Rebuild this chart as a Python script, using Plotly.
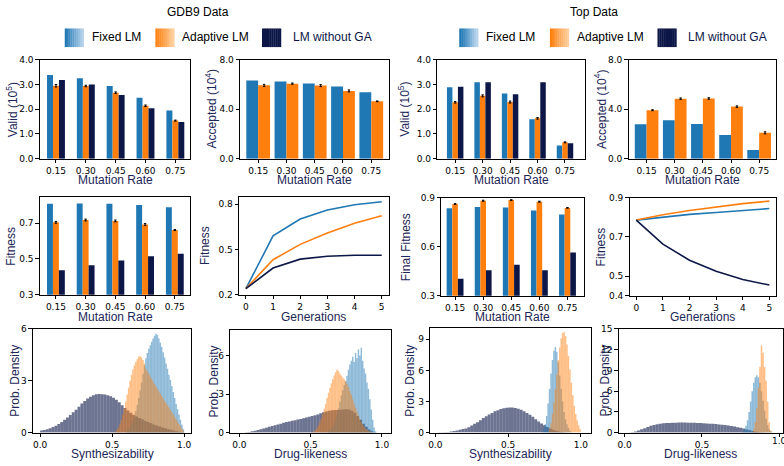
import plotly.graph_objects as go

W, H = 784, 466
BLUE = '#1f77b4'
ORANGE = '#ff7f0e'
NAVY = '#0c1747'
LABEL = '#1c2657'
FONT = 'Liberation Sans, Arial, sans-serif'
TICKFONT = 'DejaVu Sans, sans-serif'

# ---------------- data ----------------
series_names = ['Fixed LM', 'Adaptive LM', 'LM without GA']
mutation_labels = ['0.15', '0.30', '0.45', '0.60', '0.75']
generations = [0, 1, 2, 3, 4, 5]

gdb9_valid_fixed = [3.38, 3.25, 2.94, 2.46, 1.95]
gdb9_valid_adapt = [2.95, 2.94, 2.67, 2.14, 1.54]
gdb9_valid_adapt_err = [0.05, 0.03, 0.03, 0.03, 0.02]
gdb9_valid_nog = [3.18, 3.00, 2.58, 2.04, 1.48]

gdb9_acc_fixed = [6.33, 6.25, 6.09, 5.83, 5.38]
gdb9_acc_adapt = [5.93, 6.07, 5.91, 5.48, 4.64]
gdb9_acc_adapt_err = [0.08, 0.05, 0.08, 0.08, 0.03]

top_valid_fixed = [2.89, 3.09, 2.64, 1.59, 0.53]
top_valid_adapt = [2.28, 2.54, 2.29, 1.63, 0.66]
top_valid_adapt_err = [0.03, 0.04, 0.04, 0.03, 0.02]
top_valid_nog = [2.91, 3.09, 2.61, 3.09, 0.62]

top_acc_fixed = [2.78, 3.10, 2.81, 1.91, 0.69]
top_acc_adapt = [3.92, 4.85, 4.87, 4.21, 2.09]
top_acc_adapt_err = [0.04, 0.06, 0.06, 0.06, 0.08]

gdb9_fit_fixed = [0.809, 0.811, 0.809, 0.802, 0.789]
gdb9_fit_adapt = [0.705, 0.718, 0.713, 0.693, 0.662]
gdb9_fit_adapt_err = [0.005, 0.005, 0.005, 0.005, 0.003]
gdb9_fit_nog = [0.436, 0.464, 0.491, 0.515, 0.529]

gdb9_gen_fixed = [0.240, 0.590, 0.702, 0.762, 0.797, 0.817]
gdb9_gen_adapt = [0.240, 0.432, 0.534, 0.609, 0.674, 0.724]
gdb9_gen_nog = [0.240, 0.377, 0.436, 0.455, 0.462, 0.462]

top_fit_fixed = [0.836, 0.844, 0.840, 0.822, 0.798]
top_fit_adapt = [0.862, 0.882, 0.886, 0.876, 0.838]
top_fit_adapt_err = [0.002, 0.003, 0.002, 0.003, 0.002]
top_fit_nog = [0.404, 0.455, 0.489, 0.455, 0.565]

top_gen_fixed = [0.786, 0.801, 0.815, 0.825, 0.835, 0.845]
top_gen_adapt = [0.786, 0.813, 0.835, 0.853, 0.870, 0.883]
top_gen_nog = [0.786, 0.663, 0.581, 0.524, 0.482, 0.454]

# histograms: bin start, bin width, densities
gdb9_syn_nog_start, gdb9_syn_nog_w = 0.0, 0.02
gdb9_syn_nog = [0.12, 0.15, 0.2, 0.25, 0.32, 0.4, 0.5, 0.62, 0.75, 0.88,
                1.02, 1.18, 1.33, 1.5, 1.68, 1.83, 1.97, 2.08, 2.16, 2.22,
                2.24, 2.22, 2.2, 2.16, 2.1, 2.02, 1.9, 1.75, 1.58, 1.42,
                1.28, 1.15, 1.04, 0.94, 0.85, 0.77, 0.69, 0.61, 0.54, 0.47,
                0.41, 0.35, 0.3, 0.25, 0.2, 0.16, 0.12, 0.08, 0.05, 0.02]
gdb9_syn_fixed_start, gdb9_syn_fixed_w = 0.60, 0.01
gdb9_syn_fixed = [0.1, 0.2, 0.35, 0.5, 0.7, 0.95, 1.25, 1.6, 2.0, 2.45,
                  2.9, 3.4, 3.9, 4.3, 4.6, 4.85, 5.05, 5.25, 5.45, 5.6,
                  5.72, 5.65, 5.45, 5.2, 4.95, 4.65, 4.35, 4.0, 3.7, 3.35,
                  3.05, 2.7, 2.35, 2.0, 1.65, 1.35, 1.05, 0.75, 0.45, 0.2]
gdb9_syn_adapt_start, gdb9_syn_adapt_w = 0.52, 0.01
gdb9_syn_adapt = [0.05, 0.15, 0.3, 0.5, 0.75, 1.05, 1.4, 1.8, 2.2, 2.6,
                  3.0, 3.35, 3.65, 3.9, 4.1, 4.25, 4.4, 4.42, 4.35, 4.2,
                  4.0, 3.7, 3.55, 3.4, 3.25, 3.1, 2.95, 2.8, 2.67, 2.53,
                  2.4, 2.26, 2.12, 1.98, 1.85, 1.72, 1.58, 1.45, 1.32, 1.18,
                  1.05, 0.92, 0.78, 0.65, 0.5, 0.37, 0.23, 0.1]

gdb9_dl_nog_start, gdb9_dl_nog_w = 0.04, 0.02
gdb9_dl_nog = [0.02, 0.05, 0.1, 0.15, 0.2, 0.26, 0.32, 0.38, 0.45, 0.52,
               0.58, 0.64, 0.7, 0.76, 0.82, 0.87, 0.92, 0.97, 1.02, 1.07,
               1.12, 1.18, 1.24, 1.3, 1.36, 1.42, 1.5, 1.58, 1.65, 1.7,
               1.74, 1.76, 1.76, 1.78, 1.8, 1.82, 1.8, 1.7, 1.55, 1.3,
               1.0, 0.7, 0.45, 0.25, 0.1, 0.03]
gdb9_dl_fixed_start, gdb9_dl_fixed_w = 0.62, 0.01
gdb9_dl_fixed = [0.1, 0.2, 0.35, 0.5, 0.7, 1.0, 1.4, 1.9, 2.4, 2.9,
                 3.3, 3.7, 4.0, 4.4, 4.9, 5.3, 5.6, 5.9, 5.5, 6.2,
                 5.8, 6.5, 6.0, 6.6, 5.6, 5.0, 4.6, 3.9, 3.4, 2.6,
                 1.8, 1.0, 0.4, 0.1]
gdb9_dl_adapt_start, gdb9_dl_adapt_w = 0.50, 0.01
gdb9_dl_adapt = [0.02, 0.05, 0.1, 0.2, 0.35, 0.55, 0.8, 1.1, 1.45, 1.85,
                 2.25, 2.7, 3.1, 3.5, 3.85, 4.15, 4.45, 4.7, 4.92, 4.8,
                 4.6, 4.45, 4.3, 4.15, 4.0, 3.8, 3.55, 3.25, 2.95, 2.6,
                 2.25, 1.95, 1.65, 1.35, 1.1, 0.85, 0.65, 0.48, 0.35, 0.24,
                 0.15, 0.08, 0.03]

top_syn_nog_start, top_syn_nog_w = 0.0, 0.02
top_syn_nog = [0.02, 0.03, 0.04, 0.05, 0.07, 0.1, 0.15, 0.2, 0.28, 0.34,
               0.4, 0.52, 0.68, 0.85, 1.0, 1.2, 1.4, 1.58, 1.75, 1.9,
               2.05, 2.17, 2.27, 2.35, 2.4, 2.43, 2.42, 2.38, 2.3, 2.2,
               2.06, 1.9, 1.72, 1.52, 1.3, 1.08, 0.88, 0.7, 0.54, 0.4,
               0.28, 0.19, 0.12, 0.07, 0.04, 0.02]
top_syn_fixed_start, top_syn_fixed_w = 0.74, 0.01
top_syn_fixed = [0.3, 0.8, 1.6, 2.8, 4.2, 5.7, 7.0, 7.9, 8.25, 7.8,
                 6.8, 5.5, 4.2, 3.0, 2.0, 1.3, 0.8, 0.45, 0.2, 0.08]
top_syn_adapt_start, top_syn_adapt_w = 0.78, 0.01
top_syn_adapt = [0.4, 0.9, 1.8, 2.9, 4.2, 5.6, 7.0, 8.2, 9.1, 9.6,
                 9.7, 9.3, 8.5, 7.4, 6.1, 4.8, 3.6, 2.6, 1.8, 1.2,
                 0.7, 0.35]

top_dl_nog_start, top_dl_nog_w = 0.04, 0.02
top_dl_nog = [0.05, 0.15, 0.3, 0.48, 0.65, 0.82, 0.98, 1.1, 1.2, 1.28,
              1.34, 1.38, 1.41, 1.43, 1.44, 1.45, 1.45, 1.45, 1.44, 1.43,
              1.42, 1.4, 1.38, 1.36, 1.33, 1.3, 1.27, 1.23, 1.19, 1.14,
              1.09, 1.03, 0.96, 0.88, 0.79, 0.69, 0.58, 0.46, 0.34, 0.23,
              0.14, 0.07, 0.03]
top_dl_fixed_start, top_dl_fixed_w = 0.76, 0.01
top_dl_fixed = [0.2, 0.5, 1.0, 1.8, 3.0, 4.5, 6.0, 7.2, 8.0, 8.3,
                8.0, 7.2, 6.0, 4.6, 3.2, 2.0, 1.1, 0.5, 0.2]
top_dl_adapt_start, top_dl_adapt_w = 0.83, 0.01
top_dl_adapt = [0.5, 1.5, 3.5, 6.5, 9.5, 12.6, 11.5, 9.5, 7.5, 4.5,
                1.5, 0.3]

# ---------------- layout helpers ----------------
panels = [
    (38, 189, 56, 157), (239, 388, 56, 157), (437, 585, 56, 157), (629, 777, 56, 157),
    (38, 189, 196, 296), (238, 388, 196, 296), (441, 584, 197, 297), (630, 777, 197, 297),
    (31, 190, 331, 437), (229, 390, 332, 437), (430, 591, 330, 437), (619, 784, 331, 437),
]

fig = go.Figure()
pos = list(range(len(mutation_labels)))


def ax(i):
    return ('x' if i == 0 else f'x{i+1}'), ('y' if i == 0 else f'y{i+1}')


def bar(i, vals, color, width, offset, err=None):
    xa, ya = ax(i)
    kw = {}
    if err is not None:
        kw['error_y'] = dict(type='data', array=err, color='black', thickness=1, width=1.2)
    fig.add_trace(go.Bar(x=pos, y=vals, width=width, offset=offset, marker_color=color,
                         marker_line_width=0, xaxis=xa, yaxis=ya, showlegend=False, **kw))


def hist(i, start, w, vals, color):
    xa, ya = ax(i)
    xs = [start + w * k for k in range(len(vals))]
    fig.add_trace(go.Bar(x=xs, y=vals, width=w, offset=0, marker_color=color,
                         marker_line_width=0, xaxis=xa, yaxis=ya, showlegend=False))


def line(i, vals, color):
    xa, ya = ax(i)
    fig.add_trace(go.Scatter(x=generations, y=vals, mode='lines', line=dict(color=color, width=1.6),
                             xaxis=xa, yaxis=ya, showlegend=False))


w3, w2 = 0.2, 0.42
# row 1
bar(0, gdb9_valid_fixed, BLUE, w3, -0.3)
bar(0, gdb9_valid_adapt, ORANGE, w3, -0.1, gdb9_valid_adapt_err)
bar(0, gdb9_valid_nog, NAVY, w3, 0.1)
bar(1, gdb9_acc_fixed, BLUE, w2, -w2)
bar(1, gdb9_acc_adapt, ORANGE, w2, 0, gdb9_acc_adapt_err)
bar(2, top_valid_fixed, BLUE, w3, -0.3)
bar(2, top_valid_adapt, ORANGE, w3, -0.1, top_valid_adapt_err)
bar(2, top_valid_nog, NAVY, w3, 0.1)
bar(3, top_acc_fixed, BLUE, w2, -w2)
bar(3, top_acc_adapt, ORANGE, w2, 0, top_acc_adapt_err)
# row 2
bar(4, gdb9_fit_fixed, BLUE, w3, -0.3)
bar(4, gdb9_fit_adapt, ORANGE, w3, -0.1, gdb9_fit_adapt_err)
bar(4, gdb9_fit_nog, NAVY, w3, 0.1)
line(5, gdb9_gen_fixed, BLUE)
line(5, gdb9_gen_adapt, ORANGE)
line(5, gdb9_gen_nog, NAVY)
bar(6, top_fit_fixed, BLUE, w3, -0.3)
bar(6, top_fit_adapt, ORANGE, w3, -0.1, top_fit_adapt_err)
bar(6, top_fit_nog, NAVY, w3, 0.1)
line(7, top_gen_fixed, BLUE)
line(7, top_gen_adapt, ORANGE)
line(7, top_gen_nog, NAVY)
# row 3
HN = 'rgba(12,23,71,0.6)'
HB = 'rgba(31,119,180,0.5)'
HO = 'rgba(255,127,14,0.5)'
hist(8, gdb9_syn_nog_start, gdb9_syn_nog_w, gdb9_syn_nog, HN)
hist(8, gdb9_syn_fixed_start, gdb9_syn_fixed_w, gdb9_syn_fixed, HB)
hist(8, gdb9_syn_adapt_start, gdb9_syn_adapt_w, gdb9_syn_adapt, HO)
hist(9, gdb9_dl_nog_start, gdb9_dl_nog_w, gdb9_dl_nog, HN)
hist(9, gdb9_dl_fixed_start, gdb9_dl_fixed_w, gdb9_dl_fixed, HB)
hist(9, gdb9_dl_adapt_start, gdb9_dl_adapt_w, gdb9_dl_adapt, HO)
hist(10, top_syn_nog_start, top_syn_nog_w, top_syn_nog, HN)
hist(10, top_syn_fixed_start, top_syn_fixed_w, top_syn_fixed, HB)
hist(10, top_syn_adapt_start, top_syn_adapt_w, top_syn_adapt, HO)
hist(11, top_dl_nog_start, top_dl_nog_w, top_dl_nog, HN)
hist(11, top_dl_fixed_start, top_dl_fixed_w, top_dl_fixed, HB)
hist(11, top_dl_adapt_start, top_dl_adapt_w, top_dl_adapt, HO)

# axis specs: xrange, yrange, xticks(vals, text), yticks(vals, text)
cat_ticks = (pos, mutation_labels)
gen_ticks = (generations, [str(g) for g in generations])
h_ticks = ([0, 0.5, 1.0], ['0.0', '0.5', '1.0'])
h_ticks_last = ([0, 0.5, 1.0], ['0.0', '0.5', ''])
specs = [
    ([-0.54, 4.5], [0, 4], cat_ticks, ([0, 1, 2, 3, 4], ['0.0', '1.0', '2.0', '3.0', '4.0'])),
    ([-0.64, 4.61], [0, 8], cat_ticks, ([0, 4, 8], ['0.0', '4.0', '8.0'])),
    ([-0.65, 4.72], [0, 4], cat_ticks, ([0, 1, 2, 3, 4], ['0.0', '1.0', '2.0', '3.0', '4.0'])),
    ([-0.64, 4.6], [0, 8], cat_ticks, ([0, 4, 8], ['0.0', '4.0', '8.0'])),
    ([-0.54, 4.52], [0.3, 0.848], cat_ticks, ([0.3, 0.5, 0.7], ['0.3', '0.5', '0.7'])),
    ([-0.25, 5.25], [0.2, 0.85], gen_ticks, ([0.2, 0.5, 0.8], ['0.2', '0.5', '0.8'])),
    ([-0.49, 4.58], [0.3, 0.9], cat_ticks, ([0.3, 0.6, 0.9], ['0.3', '0.6', '0.9'])),
    ([-0.25, 5.25], [0.4, 0.9], gen_ticks, ([0.4, 0.5, 0.7, 0.9], ['0.4', '0.5', '0.7', '0.9'])),
    ([-0.05, 1.05], [0, 6], h_ticks, ([0, 3, 6], ['0', '3', '6'])),
    ([-0.065, 1.06], [0, 8], h_ticks, ([0, 3, 6], ['0', '3', '6'])),
    ([-0.034, 1.068], [0, 10.1], h_ticks, ([0, 3, 6, 9], ['0', '3', '6', '9'])),
    ([-0.039, 1.024], [0, 15], h_ticks_last, ([0, 3, 6, 9, 12, 15], ['0', '3', '6', '9', '12', '15'])),
]

layout = {}
common = dict(showline=True, mirror=True, linecolor='black', linewidth=0.9, ticks='outside',
              ticklen=3.5, tickwidth=0.8, tickcolor='black', showgrid=False, zeroline=False,
              tickfont=dict(family=TICKFONT, size=9, color='black'), fixedrange=True,
              ticklabeloverflow='allow')
for i, ((x0, x1, y0, y1), (xr, yr, xt, yt)) in enumerate(zip(panels, specs)):
    sx = '' if i == 0 else str(i + 1)
    layout['xaxis' + sx] = dict(domain=[x0 / W, min(x1 / W, 1.0)], range=xr, anchor='y' + sx,
                                tickvals=xt[0], ticktext=xt[1], **common)
    layout['yaxis' + sx] = dict(domain=[1 - y1 / H, 1 - y0 / H], range=yr, anchor='x' + sx,
                                tickvals=yt[0], ticktext=yt[1], **common)

annotations = []


def text(x, y, s, size=12, color=LABEL, angle=0, xanchor='center'):
    annotations.append(dict(x=x / W, y=1 - y / H, xref='paper', yref='paper', text=s, showarrow=False,
                            textangle=angle, xanchor=xanchor, yanchor='middle',
                            font=dict(family=FONT, size=size, color=color)))


# titles
text(197, 7, 'GDB9 Data', 12, 'black')
text(594, 7, 'Top Data', 12, 'black')

# y titles
ytitles = ['Valid (10<sup>5</sup>)', 'Accepted (10<sup>4</sup>)', 'Valid (10<sup>5</sup>)', 'Accepted (10<sup>4</sup>)',
           'Fitness', 'Fitness', 'Final Fitness', 'Fitness',
           'Prob. Density', 'Prob. Density', 'Prob. Density', 'Prob. Density']
ytitle_x = [10, 210, 404, 601, 9, 203, 405, 601, 13, 213, 410, 605]
xtitles = ['Mutation Rate', 'Mutation Rate', 'Mutation Rate', 'Mutation Rate',
           'Mutation Rate', 'Generations', 'Mutation Rate', 'Generations',
           'Synthesizability', 'Drug-likeness', 'Synthesizability', 'Drug-likeness']
xtitle_y = [179, 179, 179, 179, 319, 319, 319, 319, 459, 459, 459, 459]
for i, (x0, x1, y0, y1) in enumerate(panels):
    text(ytitle_x[i], (y0 + y1) / 2, ytitles[i], 12, LABEL, -90)
    xe = min(x1, 784)
    text((x0 + xe) / 2, xtitle_y[i], xtitles[i], 12, LABEL)

# last tick label of the bottom-right panel (partly cut by the right edge, as in the source)
annotations.append(dict(x=h_ticks[0][2], xref='x12', y=1 - 446 / H, yref='paper', text=h_ticks[1][2],
                        showarrow=False, xanchor='center', yanchor='middle',
                        font=dict(family=TICKFONT, size=9, color='black')))

# legends
shapes = []


def mix(c1, c2, t):
    a = [int(c1[k:k + 2], 16) for k in (1, 3, 5)]
    b = [int(c2[k:k + 2], 16) for k in (1, 3, 5)]
    return 'rgb(%d,%d,%d)' % tuple(round(a[j] + (b[j] - a[j]) * t) for j in range(3))


def swatch(x0, y0, size, c_left, c_right):
    n = 10
    for k in range(n):
        shapes.append(dict(type='rect', xref='paper', yref='paper',
                           x0=(x0 + size * k / n) / W, x1=(x0 + size * (k + 1) / n + 0.3) / W,
                           y0=1 - (y0 + size) / H, y1=1 - y0 / H,
                           fillcolor=mix(c_left, c_right, k / (n - 1)), line=dict(width=0)))


legend_sets = [(63, 154, 261), (459, 550, 658)]
for bx, ox, nx in legend_sets:
    swatch(bx, 24, 19, '#1f77b4', '#b8d4ec')
    swatch(ox, 24, 19, '#ff7f0e', '#ffcf9e')
    swatch(nx, 24, 19, '#0c1747', '#0c1747')
    text(bx + 25, 33, series_names[0], 12, 'black', xanchor='left')
    text(ox + 25, 33, series_names[1], 12, 'black', xanchor='left')
    text(nx + 29, 33, series_names[2], 12, NAVY, xanchor='left')

fig.update_layout(**layout)
fig.update_layout(width=W, height=H, margin=dict(l=0, r=0, t=0, b=0), barmode='overlay',
                  plot_bgcolor='white', paper_bgcolor='white', annotations=annotations,
                  shapes=shapes, showlegend=False)
fig.write_html('out.html', config={'displayModeBar': False},
               post_script="document.body.style.margin='0px';document.body.style.overflow='hidden';")
